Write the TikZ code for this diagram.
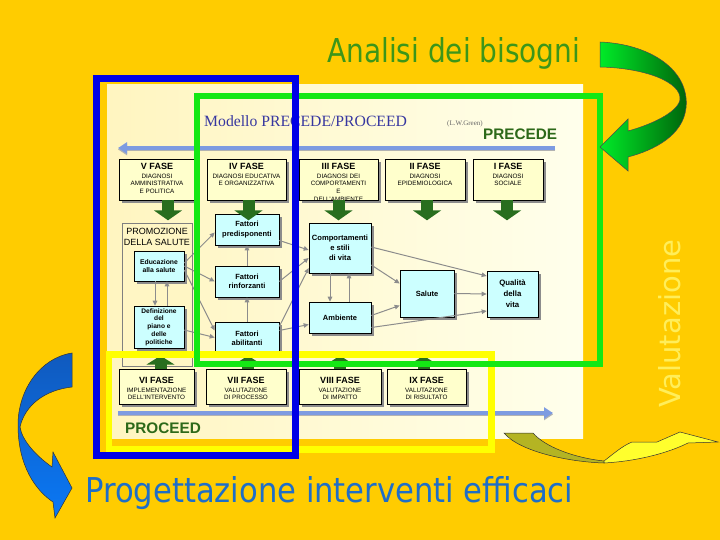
\documentclass[tikz,border=0pt]{standalone}
\usepackage{fontspec}
\setmainfont{Liberation Sans}
\newfontfamily\modelfont{Liberation Serif}
\newfontfamily\handfont{DejaVu Sans}
\usepackage{graphicx}
\usetikzlibrary{arrows.meta,calc,positioning,shadows}

\definecolor{bgorange}{RGB}{255,204,0}
\definecolor{panelL}{RGB}{255,245,192}
\definecolor{panelR}{RGB}{255,255,236}
\definecolor{promofill}{RGB}{255,246,196}
\definecolor{boxyellow}{RGB}{255,255,204}
\definecolor{boxcyan}{RGB}{204,255,255}
\definecolor{arrowgreen}{RGB}{40,110,30}
\definecolor{procgreen}{RGB}{45,105,25}
\definecolor{titlegreen}{RGB}{60,150,25}
\definecolor{titleblue}{RGB}{30,110,200}
\definecolor{valyellow}{RGB}{255,238,90}
\definecolor{frameblue}{RGB}{0,0,230}
\definecolor{framegreen}{RGB}{20,232,20}
\definecolor{frameyellow}{RGB}{255,255,0}
\definecolor{modelblue}{RGB}{55,55,160}
\definecolor{lineblue}{RGB}{125,155,225}
\definecolor{olive}{RGB}{180,180,35}
\definecolor{brightyellow}{RGB}{255,255,45}

% phase box text: [top pad]{width}{height}{title}{subtitle}
\newcommand{\fasetext}[5][2pt]{\parbox[c][#3][t]{#2}{\centering\vspace*{#1}%
  {\fontsize{9}{10}\selectfont\bfseries #4\par}\vspace{1.5pt}%
  \fontsize{6.3}{7.6}\selectfont #5}}

\begin{document}
\begin{tikzpicture}[
  x=1pt,
  y=-1pt,
  >=Stealth,
  fase/.style={draw, line width=0.6pt, fill=boxyellow, inner sep=2pt,
    general shadow={fill=black!45, shadow xshift=3pt, shadow yshift=-3pt}},
  factor/.style={draw, line width=0.6pt, fill=boxcyan, align=center, inner sep=1pt,
    general shadow={fill=black!45, shadow xshift=3pt, shadow yshift=-3pt},
    font=\fontsize{7.5}{9.5}\selectfont\bfseries},
  promopanel/.style={draw=black!50, line width=0.5pt, fill=promofill, inner sep=1pt,
    font=\fontsize{9}{11}\selectfont},
  link/.style={draw=black!45, line width=1pt, -{Triangle[length=5pt,width=4.5pt]}},
  blockarrow/.style={draw=arrowgreen, line width=12pt, -{Triangle[length=10pt,width=28pt]}},
  phaseline/.style={draw=lineblue, line width=3.5pt, -{Triangle[length=9pt,width=11pt]},
    preaction={draw=black!30, line width=3.5pt, transform canvas={yshift=-1.5pt}}},
  frame/.style={line width=6.5pt}
]
  \useasboundingbox (0,0) rectangle (720,540);
  \fill[bgorange] (0,0) rectangle (720,540);
  \shade[left color=panelL, right color=panelR] (107,85) rectangle (583,438);

  % headings of the model
  \node[anchor=base west, inner sep=0pt, text=modelblue,
    font=\modelfont\fontsize{15.7}{18}\selectfont] (modello) at (204,127) {Modello PRECEDE/PROCEED};
  \node[anchor=base west, inner sep=0pt, text=black!60,
    font=\modelfont\fontsize{7}{8}\selectfont] (autore) at (447,126) {(L.W.Green)};
  \node[anchor=base west, inner sep=0pt, text=procgreen,
    font=\bfseries\fontsize{15.3}{18}\selectfont] (precede) at (483,140) {PRECEDE};
  \node[anchor=base west, inner sep=0pt, text=procgreen,
    font=\bfseries\fontsize{15.3}{18}\selectfont] (proceed) at (125,433) {PROCEED};

  \coordinate (precR) at (555,148);
  \coordinate (precL) at (118,148);
  \coordinate (procL) at (118,413);
  \coordinate (procR) at (553,413);
  \draw[phaseline] (precR) -- (precL);
  \draw[phaseline] (procL) -- (procR);

  % PRECEDE phases
  \node[fase] (f5) at (157,179.5) {\fasetext{72pt}{37pt}{V FASE}{DIAGNOSI\\AMMINISTRATIVA\\E POLITICA}};
  \node[fase] (f4) at (246.5,179.5) {\fasetext{75pt}{37pt}{IV FASE}{DIAGNOSI EDUCATIVA\\E ORGANIZZATIVA}};
  \node[fase] (f3) at (338.5,179.5) {\fasetext{75pt}{37pt}{III FASE}{DIAGNOSI DEI\\COMPORTAMENTI\\E\\DELL'AMBIENTE}};
  \node[fase] (f2) at (425,179.5) {\fasetext{76pt}{37pt}{II FASE}{DIAGNOSI\\EPIDEMIOLOGICA}};
  \node[fase] (f1) at (508,179.5) {\fasetext{66pt}{37pt}{I FASE}{DIAGNOSI\\SOCIALE}};

  % PROCEED phases
  \node[fase] (f6) at (156.5,386.5) {\fasetext[6pt]{71pt}{31pt}{VI FASE}{IMPLEMENTAZIONE\\DELL'INTERVENTO}};
  \node[fase] (f7) at (246,386.5) {\fasetext[6pt]{76pt}{31pt}{VII FASE}{VALUTAZIONE\\DI PROCESSO}};
  \node[fase] (f8) at (340,386.5) {\fasetext[6pt]{78pt}{31pt}{VIII FASE}{VALUTAZIONE\\DI IMPATTO}};
  \node[fase] (f9) at (426.5,386.5) {\fasetext[6pt]{75pt}{31pt}{IX FASE}{VALUTAZIONE\\DI RISULTATO}};

  % promozione della salute
  \node[promopanel] (promo) at (157,294.5) {\parbox[c][141pt][t]{68pt}{\centering\vspace*{4pt}PROMOZIONE\\DELLA SALUTE}};
  \node[factor, minimum width=50pt, minimum height=30pt, font=\fontsize{6.8}{8.5}\selectfont\bfseries] (edu) at (159,266) {Educazione\\alla salute};
  \node[factor, minimum width=50pt, minimum height=42pt, font=\fontsize{6.6}{7.8}\selectfont\bfseries] (plan) at (159,327) {Definizione\\del\\piano e\\delle\\politiche};

  % fattori
  \node[factor, minimum width=64pt, minimum height=31pt] (pred) at (247,229.5) {Fattori\\predisponenti};
  \node[factor, minimum width=64pt, minimum height=31pt] (rinf) at (247,281.5) {Fattori\\rinforzanti};
  \node[factor, minimum width=64pt, minimum height=33pt] (abil) at (247,338.5) {Fattori\\abilitanti};

  % comportamenti, ambiente, salute
  \node[factor, minimum width=62pt, minimum height=50pt, font=\fontsize{7.6}{10}\selectfont\bfseries] (comp) at (340,248) {Comportamenti\\e stili\\di vita};
  \node[factor, minimum width=62pt, minimum height=31pt] (amb) at (340,317.5) {Ambiente};
  \node[factor, minimum width=54pt, minimum height=47pt] (sal) at (427,293.5) {Salute};
  \node[factor, minimum width=51pt, minimum height=46pt, font=\fontsize{7.8}{11}\selectfont\bfseries] (qual) at (512.5,294) {Qualità\\della\\vita};

  \draw[link] ([yshift=3pt]edu.east) -- ([yshift=-3pt]pred.west);
  \draw[link] (edu.east) -- (rinf.west);
  \draw[link] ([yshift=-4pt]edu.east) -- ([yshift=8pt]abil.west);
  \draw[link] ([yshift=-3pt]plan.east) -- ([yshift=1pt]abil.west);
  \draw[link] ([xshift=-4pt]edu.south) -- ([xshift=-4pt]plan.north);
  \draw[link] ([xshift=8pt]plan.north) -- ([xshift=8pt]edu.south);
  \draw[link] (rinf.north) -- (pred.south);
  \draw[link] (abil.north) -- (rinf.south);
  \draw[link] ([yshift=-11pt]pred.east) -- ([yshift=-2pt]comp.west);
  \draw[link] (rinf.east) -- ([yshift=-10pt]comp.west);
  \draw[link] ([yshift=12pt]abil.east) -- ([yshift=-20pt]comp.west);
  \draw[link] ([yshift=8pt]abil.east) -- ([yshift=-7pt]amb.west);
  \draw[link] ([xshift=-10pt]comp.south) -- ([xshift=-10pt]amb.north);
  \draw[link] ([xshift=9pt]amb.north) -- ([xshift=9pt]comp.south);
  \draw[link] ([yshift=-17pt]comp.east) -- ([yshift=10pt]sal.west);
  \draw[link] ([yshift=1pt]comp.east) -- ([yshift=18pt]qual.west);
  \draw[link] ([yshift=2pt]amb.east) -- ([yshift=-12pt]sal.west);
  \draw[link] ([yshift=-10pt]amb.east) -- ([yshift=-17pt]qual.west);
  \draw[link] (sal.east) -- (qual.west);

  % block arrows out of the phases
  \foreach \f/\dx in {f5/11,f4/2,f3/0,f2/2,f1/-1}
    \draw[blockarrow] ([xshift=\dx pt]\f.south) -- ++(0,20);
  \foreach \f/\dx in {f6/4,f7/2,f8/0,f9/-3}
    \draw[blockarrow, -{Triangle[length=9pt,width=28pt]}] ([xshift=\dx pt]\f.north) -- ++(0,-13);

  % frames
  \draw[frame, draw=frameyellow] (109,354.5) rectangle (491.5,449.5);
  \draw[frame, draw=framegreen, line width=6pt] (197,96) rectangle (600,364);
  \draw[frame, draw=frameblue, line width=7pt] (96.5,79) rectangle (295,455);

  % curved arrows
  \shadedraw[left color={rgb,255:red,0;green,235;blue,40}, right color={rgb,255:red,0;green,95;blue,10}, draw=black!70, line width=0.5pt]
    (600,42) .. controls (650,44) and (690,70) .. (686,108)
    .. controls (683,135) and (655,150) .. (628,157) -- (628,171) -- (600,147) -- (628,119) -- (628,131)
    .. controls (650,125) and (677,113) .. (680,100)
    .. controls (682,82) and (645,68) .. (600,67) -- cycle;
  \shadedraw[top color={rgb,255:red,16;green,90;blue,190}, bottom color={rgb,255:red,10;green,120;blue,245}, draw=black!80, line width=0.5pt]
    (72,353) .. controls (40,358) and (18,390) .. (18,425)
    .. controls (18,465) and (35,490) .. (53,502) -- (55,518) -- (72,488) -- (53,452) -- (52,467)
    .. controls (35,455) and (22,440) .. (20,427)
    .. controls (25,405) and (45,390) .. (72,387) -- cycle;
  \filldraw[fill=olive, draw=black!80, line width=0.5pt]
    (504,433) -- (533,433) .. controls (545,447) and (575,458) .. (604,461)
    -- (604,463) .. controls (570,462) and (520,452) .. (504,433) -- cycle;
  \filldraw[fill=brightyellow, draw=black!80, line width=0.5pt]
    (604,461) .. controls (612,455) and (622,446) .. (632,442) -- (657,442) -- (680,432)
    -- (718,442) -- (688,443) .. controls (670,452) and (640,461) .. (604,463) -- cycle;

  % titles
  \node[anchor=base west, inner sep=0pt, text=titlegreen] (analisi) at (327,63)
    {\resizebox{253pt}{25pt}{\handfont Analisi dei bisogni}};
  \node[anchor=base west, inner sep=0pt, text=titleblue] (progetto) at (85,502)
    {\resizebox{488pt}{26pt}{\handfont Progettazione interventi efficaci}};
  \node[anchor=base west, inner sep=0pt, text=valyellow, rotate=90] (valuta) at (680,408)
    {\resizebox{168pt}{22pt}{\handfont Valutazione}};
\end{tikzpicture}
\end{document}
